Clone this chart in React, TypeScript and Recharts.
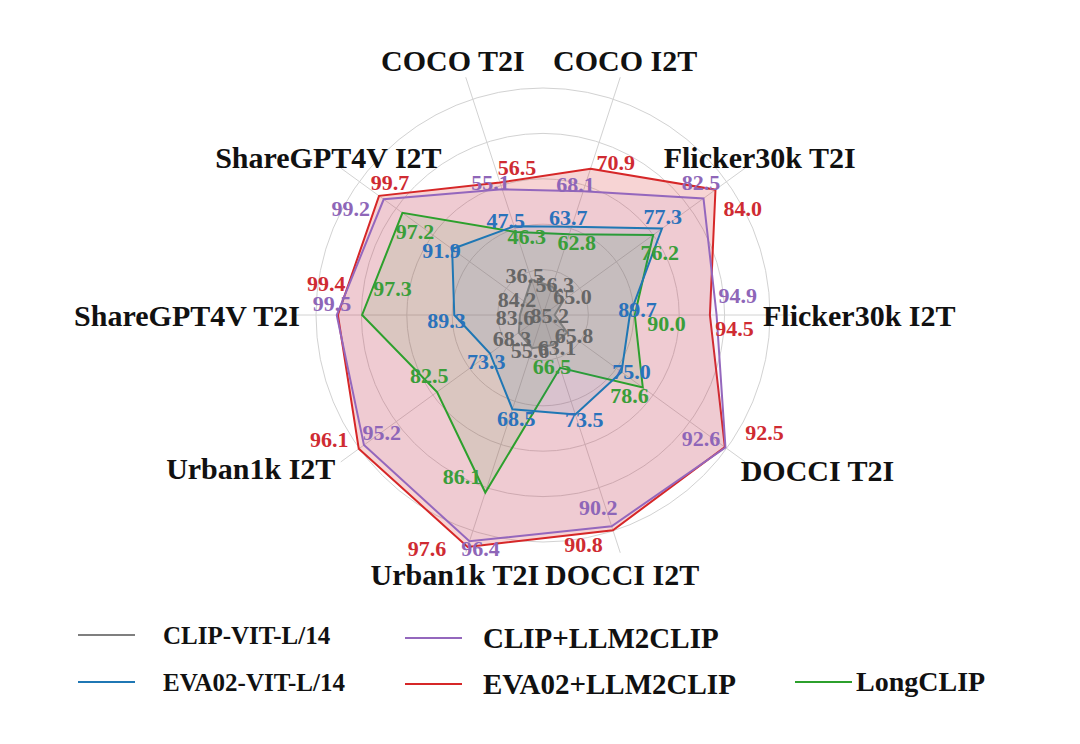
import React from "react";
import {
  RadarChart,
  PolarGrid,
  PolarAngleAxis,
  PolarRadiusAxis,
  Radar,
  Legend,
} from "recharts";

// spokes, clockwise from the upper right
const categories = [
  "COCO I2T",
  "Flicker30k T2I",
  "Flicker30k I2T",
  "DOCCI T2I",
  "DOCCI I2T",
  "Urban1k T2I",
  "Urban1k I2T",
  "ShareGPT4V T2I",
  "ShareGPT4V I2T",
  "COCO T2I",
];

const clipVit = [56.3, 65.0, 85.2, 65.8, 63.1, 55.6, 68.3, 83.6, 84.2, 36.5];
const evaVit = [63.7, 77.3, 89.7, 75.0, 73.5, 68.5, 73.3, 89.3, 91.9, 47.5];
const clipLlm = [68.1, 82.5, 94.9, 92.6, 90.2, 96.4, 95.2, 99.5, 99.2, 55.1];
const evaLlm = [70.9, 84.0, 94.5, 92.5, 90.8, 97.6, 96.1, 99.4, 99.7, 56.5];
const longClip = [62.8, 76.2, 90.0, 78.6, 66.5, 86.1, 82.5, 97.3, 97.2, 46.3];

// every spoke has its own scale: value at the centre / value at the outer ring
const axisMin = [52.8, 62.4, 84.5, 61.7, 58.6, 48.6, 64.1, 81.6, 82.2, 29.2];
const axisMax = [79.5, 85.4, 98.1, 92.8, 90.9, 94.2, 96.0, 101.3, 101.8, 73.7];

const CX = 543;
const CY = 315;
const RING = 227; // outer grid ring
const SPOKE = 250; // spokes run a bit past the outer ring
const FONT = "'Liberation Serif', 'Times New Roman', serif";

// value label nudges: radial px, angle deg (ccw)
const series = [
  {
    key: "evaLlm",
    name: "EVA02+LLM2CLIP",
    values: evaLlm,
    color: "#d62728",
    text: "#cf2b32",
    fillOpacity: 0.2,
    dr: [15, 13, 25, 26, 7, 17, 20, 14, 0, 11],
    da: [-7.5, -8, -4, 8, -8, -8.4, -5.7, -8.2, -5, -8],
  },
  {
    key: "clipLlm",
    name: "CLIP+LLM2CLIP",
    values: clipLlm,
    color: "#9467bd",
    text: "#8e66b8",
    fillOpacity: 0.08,
    dr: [4, 8, 22, -25, -22, 4, -22, 5, 23, 10],
    da: [4, 4, 5.6, -2, -2, 3, 0, -3, 7, 3.7],
  },
  {
    key: "longClip",
    name: "LongCLIP",
    values: longClip,
    color: "#2ca02c",
    text: "#3a9e3a",
    fillOpacity: 0.1,
    dr: [-5, -4, 32, -5, -3, -6, -2, -28, -21, -7],
    da: [-7, -8, -4, -7, -8, -8.6, -8, -10, 3, -6.4],
  },
  {
    key: "evaVit",
    name: "EVA02-VIT-L/14",
    values: evaVit,
    color: "#1f77b4",
    text: "#2a72bb",
    fillOpacity: 0.1,
    dr: [8, 8, 8, 8, 8, 8, 8, 8, 8, 8],
    da: [3.5, 3.5, 3.5, 3.5, 3.5, 3.5, 3.5, 3.5, 3.5, 3.5],
  },
  {
    key: "clipVit",
    name: "CLIP-VIT-L/14",
    values: clipVit,
    color: "#7f7f7f",
    text: "#666666",
    fillOpacity: 0.3,
    dr: [3, 9, -5, 7, 4, 3, 9, 5, 7, 6],
    da: [-3, -4, 0, 3, 5, -2, 1, 6, 6, 7],
  },
];

const data = categories.map((name, i) => {
  const row: any = { name };
  series.forEach((s) => {
    row[s.key] = (s.values[i] - axisMin[i]) / (axisMax[i] - axisMin[i]);
  });
  return row;
});

// axis label placement relative to the point on the outer ring
const axisLabelNudge: [number, number, string][] = [
  [12, -39, "middle"],
  [33, -24, "middle"],
  [-7, 0, "start"],
  [14, 22, "start"],
  [9, 44, "middle"],
  [-18, 44, "middle"],
  [-24, 20, "end"],
  [-16, 0, "end"],
  [-31, -24, "middle"],
  [-20, -39, "middle"],
];

const AxisTick = (props: any) => {
  const { payload } = props;
  const i = categories.indexOf(payload.value);
  const a = (payload.coordinate * Math.PI) / 180;
  const [dx, dy, anchor] = axisLabelNudge[i];
  const x = CX + RING * Math.cos(a) + dx;
  const y = CY - RING * Math.sin(a) + dy;
  return (
    <text
      x={x}
      y={y}
      textAnchor={anchor as any}
      dominantBaseline="central"
      fontFamily={FONT}
      fontWeight="bold"
      fontSize={30}
      fill="#111"
    >
      {payload.value}
    </text>
  );
};

const makeValueLabel = (s: any) => (props: any) => {
  const { cx, cy, index } = props;
  const dx = cx - CX;
  const dy = CY - cy;
  const r = Math.hypot(dx, dy) + s.dr[index];
  const a = Math.atan2(dy, dx) + (s.da[index] * Math.PI) / 180;
  return (
    <text
      key={`${s.key}-lbl-${index}`}
      x={CX + r * Math.cos(a)}
      y={CY - r * Math.sin(a)}
      textAnchor="middle"
      dominantBaseline="central"
      fontFamily={FONT}
      fontWeight="bold"
      fontSize={22}
      fill={s.text}
    >
      {s.values[index].toFixed(1)}
    </text>
  );
};

const legendItems = [
  { key: "clipVit", lineX: 78, textX: 163, top: 35, size: 25 },
  { key: "clipLlm", lineX: 405, textX: 483, top: 38, size: 29 },
  { key: "evaVit", lineX: 78, textX: 163, top: 82, size: 25 },
  { key: "evaLlm", lineX: 405, textX: 483, top: 84, size: 29 },
  { key: "longClip", lineX: 795, textX: 856, top: 82, size: 28 },
];

const renderLegend = () => (
  <div style={{ position: "relative", width: 1080, height: 120 }}>
    {legendItems.map((it) => {
      const s = series.find((x) => x.key === it.key)!;
      return (
        <React.Fragment key={it.key}>
          <div
            style={{
              position: "absolute",
              left: it.lineX,
              top: it.top - 1,
              width: 57,
              height: 2,
              background: s.color,
            }}
          />
          <div
            style={{
              position: "absolute",
              left: it.textX,
              top: it.top,
              transform: "translateY(-50%)",
              fontFamily: FONT,
              fontWeight: "bold",
              fontSize: it.size,
              color: "#111",
              whiteSpace: "nowrap",
              lineHeight: 1,
            }}
          >
            {s.name}
          </div>
        </React.Fragment>
      );
    })}
  </div>
);

export default function App() {
  return (
    <div
      style={{
        position: "absolute",
        left: 0,
        top: 0,
        width: 1080,
        height: 744,
        background: "#fff",
      }}
    >
      <RadarChart
        width={1080}
        height={744}
        data={data}
        cx={CX}
        cy={CY}
        outerRadius={SPOKE}
        startAngle={72}
        endAngle={-288}
        margin={{ top: 0, right: 0, bottom: 0, left: 0 }}
      >
        <PolarGrid
          gridType="circle"
          polarRadius={[45.4, 90.8, 136.2, 181.6, 227]}
          stroke="#d2d2d2"
          strokeWidth={1}
        />
        <PolarAngleAxis
          dataKey="name"
          tick={<AxisTick />}
          tickLine={false}
          axisLine={false}
        />
        <PolarRadiusAxis
          domain={[0, SPOKE / RING]}
          tick={false}
          axisLine={false}
        />
        {series.map((s) => (
          <Radar
            key={s.key}
            name={s.name}
            dataKey={s.key}
            stroke={s.color}
            strokeWidth={2}
            fill={s.color}
            fillOpacity={s.fillOpacity}
            dot={makeValueLabel(s)}
            isAnimationActive={false}
          />
        ))}
        <Legend
          content={renderLegend}
          wrapperStyle={{ position: "absolute", left: 0, top: 600, width: 1080 }}
        />
      </RadarChart>
    </div>
  );
}
